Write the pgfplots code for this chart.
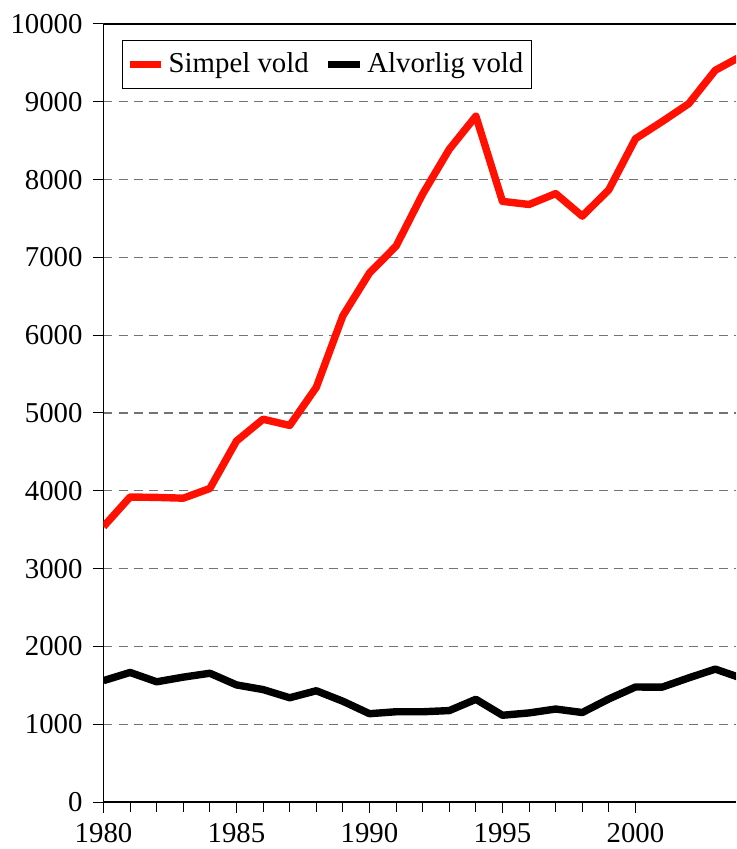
\documentclass[border=0pt]{standalone}
\usepackage{pgfplots}
\pgfplotsset{compat=1.18}
\usepackage{fontspec}
\setmainfont{Liberation Serif}
\begin{document}
\fontsize{14.4}{17}\selectfont
\begin{tikzpicture}
\begin{axis}[
  width=316.25pt, height=389pt,
  scale only axis,
  xmin=1980, xmax=2003.78,
  ymin=0, ymax=10000,
  axis lines=left,
  axis line style={-, line width=0.6pt},
  xtick={1980,1985,...,2000},
  minor x tick num=4,
  ytick={0,1000,...,10000},
  tick align=outside,
  major tick length=5.5pt, minor tick length=5pt,
  tick style={black, line width=0.5pt},
  xticklabel style={/pgf/number format/1000 sep=},
  yticklabel style={/pgf/number format/1000 sep=},
  /pgf/number format/assume math mode=true,
  scaled y ticks=false,
  ymajorgrids,
  grid style={black!55, dash pattern=on 4.5pt off 3pt, line width=0.6pt},
  clip=true,
  legend columns=2,
  legend style={at={(rel axis cs:0,1)}, anchor=north west, xshift=9pt, yshift=-8pt,
    draw=black, line width=0.5pt, inner xsep=2pt, inner ysep=4pt,
    font=\fontsize{14.4}{17}\selectfont, /tikz/every even column/.append style={column sep=6pt}},
  legend image code/.code={\draw[#1] (0cm,0cm) -- (0.55cm,0cm);},
]
\addplot[color={rgb,255:red,255;green,16;blue,0}, line width=3.7pt, line join=round] coordinates {
(1980,3540) (1981,3920) (1982,3915) (1983,3905) (1984,4030) (1985,4640)
(1986,4920) (1987,4840) (1988,5330) (1989,6250) (1990,6800) (1991,7145)
(1992,7815) (1993,8390) (1994,8815) (1995,7720) (1996,7680) (1997,7820)
(1998,7530) (1999,7870) (2000,8525) (2001,8745) (2002,8975) (2003,9405) (2004,9590)
};
\addlegendentry{Simpel vold}
\addplot[black, line width=3.7pt, line join=round] coordinates {
(1980,1560) (1981,1665) (1982,1545) (1983,1605) (1984,1655) (1985,1505)
(1986,1445) (1987,1340) (1988,1430) (1989,1295) (1990,1135) (1991,1160)
(1992,1160) (1993,1175) (1994,1320) (1995,1115) (1996,1145) (1997,1195)
(1998,1150) (1999,1325) (2000,1478) (2001,1476) (2002,1595) (2003,1708) (2004,1590)
};
\addlegendentry{Alvorlig vold}
\draw[line width=0.6pt] (rel axis cs:0,1) -- (rel axis cs:1,1);
\coordinate (bl) at (rel axis cs:0,0);
\coordinate (tr) at (rel axis cs:1,1);
\end{axis}
\pgfresetboundingbox
\path[use as bounding box] ([xshift=-51.75pt, yshift=-23.5pt]bl) rectangle ([yshift=12pt]tr);
\end{tikzpicture}
\end{document}
